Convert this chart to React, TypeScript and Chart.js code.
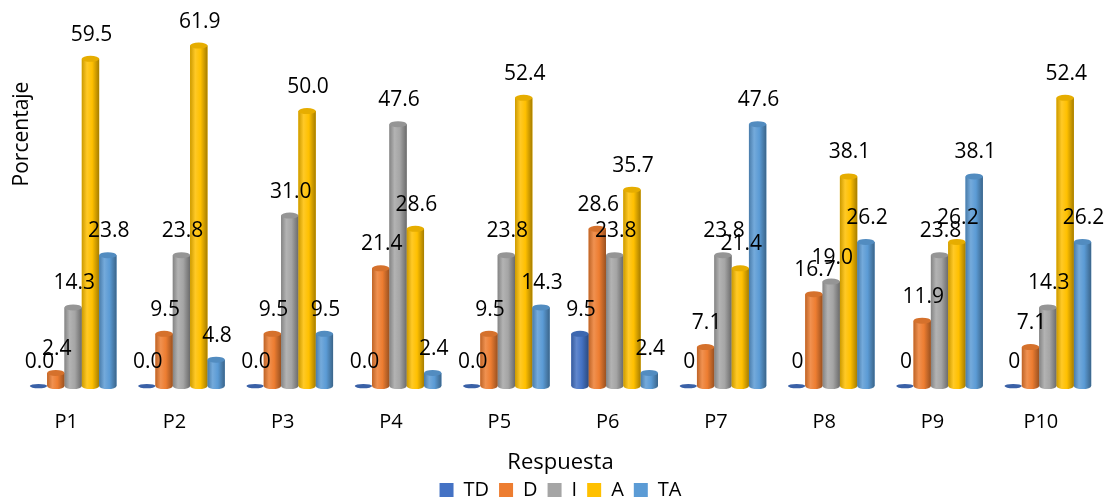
import React, { useEffect, useRef } from "react";
import { Chart, registerables } from "chart.js";

Chart.register(...registerables);

const categories = ["P1", "P2", "P3", "P4", "P5", "P6", "P7", "P8", "P9", "P10"];
const seriesNames = ["TD", "D", "I", "A", "TA"];
const tdValues = [0, 0, 0, 0, 0, 9.5, 0, 0, 0, 0];
const dValues = [2.4, 9.5, 9.5, 21.4, 9.5, 28.6, 7.1, 16.7, 11.9, 7.1];
const iValues = [14.3, 23.8, 31.0, 47.6, 23.8, 23.8, 23.8, 19.0, 23.8, 14.3];
const aValues = [59.5, 61.9, 50.0, 28.6, 52.4, 35.7, 21.4, 38.1, 26.2, 52.4];
const taValues = [23.8, 4.8, 9.5, 2.4, 14.3, 2.4, 47.6, 26.2, 38.1, 26.2];
const tdLabels = ["0.0", "0.0", "0.0", "0.0", "0.0", "9.5", "0", "0", "0", "0"];
const seriesColors = ["#4472C4", "#ED7D31", "#A5A5A5", "#FFC000", "#5B9BD5"];

const FONT = "'Open Sans', 'Noto Sans', sans-serif";

function hexToRgb(hex: string) {
  const h = hex.replace("#", "");
  return [parseInt(h.slice(0, 2), 16), parseInt(h.slice(2, 4), 16), parseInt(h.slice(4, 6), 16)];
}
function shade(hex: string, amt: number) {
  const [r, g, b] = hexToRgb(hex);
  const f = (c: number) =>
    Math.round(amt >= 0 ? c + (255 - c) * amt : c * (1 + amt));
  return `rgb(${f(r)},${f(g)},${f(b)})`;
}

const cylinderPlugin = {
  id: "cylinders",
  afterDatasetsDraw(chart: any) {
    const ctx = chart.ctx as CanvasRenderingContext2D;
    ctx.save();
    chart.data.datasets.forEach((ds: any, di: number) => {
      const meta = chart.getDatasetMeta(di);
      if (meta.hidden) return;
      const base = seriesColors[di];
      meta.data.forEach((el: any) => {
        const { x, y, base: b, width } = el.getProps(["x", "y", "base", "width"], true);
        const left = x - width / 2;
        const right = x + width / 2;
        const rx = width / 2;
        const ry = 3;
        if (Math.abs(b - y) < 0.5) {
          ctx.beginPath();
          ctx.ellipse(x, b, rx, 2.2, 0, 0, Math.PI * 2);
          ctx.fillStyle = shade(base, -0.15);
          ctx.fill();
          return;
        }
        const g = ctx.createLinearGradient(left, 0, right, 0);
        g.addColorStop(0, shade(base, -0.2));
        g.addColorStop(0.3, shade(base, 0.15));
        g.addColorStop(0.6, base);
        g.addColorStop(1, shade(base, -0.35));
        ctx.beginPath();
        ctx.moveTo(left, y);
        ctx.lineTo(left, b);
        ctx.ellipse(x, b, rx, ry, 0, Math.PI, 0, true);
        ctx.lineTo(right, y);
        ctx.closePath();
        ctx.fillStyle = g;
        ctx.fill();
        ctx.beginPath();
        ctx.ellipse(x, y, rx, ry, 0, 0, Math.PI * 2);
        ctx.fillStyle = shade(base, -0.1);
        ctx.fill();
      });
    });
    // data labels
    ctx.font = `21px ${FONT}`;
    ctx.fillStyle = "#000";
    ctx.textAlign = "center";
    ctx.textBaseline = "middle";
    chart.data.datasets.forEach((ds: any, di: number) => {
      const meta = chart.getDatasetMeta(di);
      meta.data.forEach((el: any, i: number) => {
        const { x, y } = el.getProps(["x", "y"], true);
        const txt = di === 0 ? tdLabels[i] : (ds.data[i] as number).toFixed(1);
        ctx.fillText(txt, x + 1, y - 24);
      });
    });
    // y axis title
    ctx.save();
    ctx.translate(22, 134);
    ctx.rotate(-Math.PI / 2);
    ctx.font = `21px ${FONT}`;
    ctx.fillText("Porcentaje", 0, 0);
    ctx.restore();
    ctx.restore();
  },
};

export default function App() {
  const ref = useRef<HTMLCanvasElement | null>(null);
  useEffect(() => {
    if (!ref.current) return;
    const allValues = [tdValues, dValues, iValues, aValues, taValues];
    const chart = new Chart(ref.current, {
      type: "bar",
      data: {
        labels: categories,
        datasets: seriesNames.map((name, i) => ({
          label: name,
          data: allValues[i],
          backgroundColor: seriesColors[i],
          borderWidth: 0,
          categoryPercentage: 0.8,
          barPercentage: 1.0,
        })),
      },
      options: {
        responsive: false,
        animation: false,
        layout: { padding: { top: 12, left: 19, right: 4, bottom: 0 } },
        plugins: {
          tooltip: { enabled: false },
          legend: {
            position: "bottom",
            labels: {
              boxWidth: 14,
              boxHeight: 14,
              padding: 10,
              color: "#000",
              font: { family: FONT, size: 20 },
            },
          },
        },
        scales: {
          x: {
            grid: { display: false, drawTicks: false },
            border: { display: false },
            ticks: {
              padding: 24,
              labelOffset: -7,
              color: "#000",
              font: { family: FONT, size: 20 },
            },
            title: {
              display: true,
              text: "Respuesta",
              color: "#000",
              font: { family: FONT, size: 22 },
              padding: { top: -8.5, bottom: -6 },
            },
          },
          y: {
            display: false,
            min: 0,
            max: 68,
          },
        },
      },
      plugins: [cylinderPlugin],
    });
    return () => chart.destroy();
  }, []);
  return (
    <div style={{ position: "fixed", left: 0, top: 0, width: 1106, height: 510 }}>
      <canvas ref={ref} width={1106} height={510} />
    </div>
  );
}
